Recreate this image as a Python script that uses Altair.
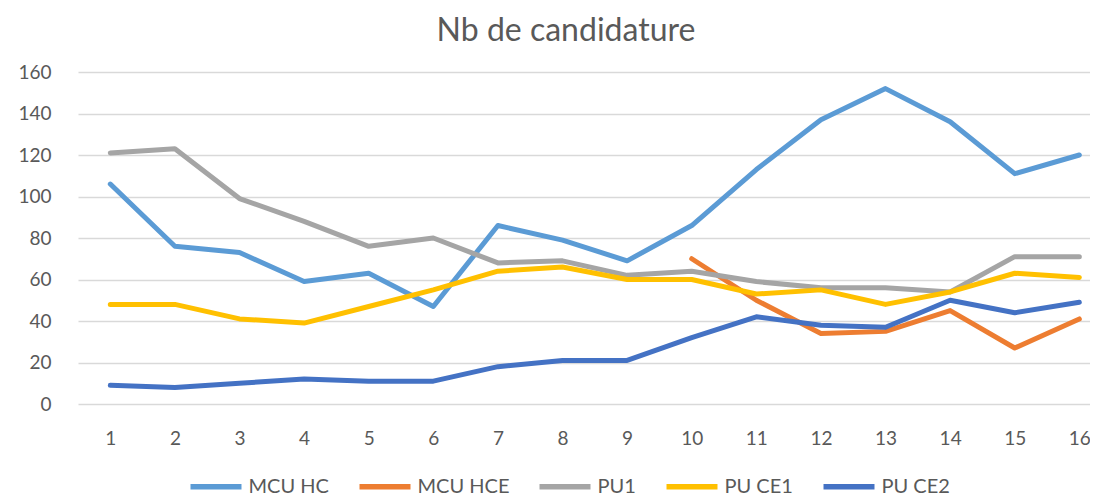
import altair as alt
import pandas as pd

categories = list(range(1, 17))
series_names = ["MCU HC", "MCU HCE", "PU1", "PU CE1", "PU CE2"]
mcu_hc = [106, 76, 73, 59, 63, 47, 86, 79, 69, 86, 113, 137, 152, 136, 111, 120]
mcu_hce = [None, None, None, None, None, None, None, None, None, 70, 50, 34, 35, 45, 27, 41]
pu1 = [121, 123, 99, 88, 76, 80, 68, 69, 62, 64, 59, 56, 56, 54, 71, 71]
pu_ce1 = [48, 48, 41, 39, 47, 55, 64, 66, 60, 60, 53, 55, 48, 54, 63, 61]
pu_ce2 = [9, 8, 10, 12, 11, 11, 18, 21, 21, 32, 42, 38, 37, 50, 44, 49]
colors = ["#5B9BD5", "#ED7D31", "#A5A5A5", "#FFC000", "#4472C4"]
y_ticks = [0, 20, 40, 60, 80, 100, 120, 140, 160]

rows = []
for order, (name, vals) in enumerate(zip(series_names, [mcu_hc, mcu_hce, pu1, pu_ce1, pu_ce2])):
    for c, v in zip(categories, vals):
        if v is not None:
            rows.append({"x": c, "y": v, "serie": name, "ord": order})
df = pd.DataFrame(rows)

FONT = "Lato"
TXT = "#595959"

chart = alt.Chart(df).mark_line(strokeWidth=5, strokeCap="round", strokeJoin="round").encode(
    x=alt.X("x:Q",
            scale=alt.Scale(domain=[0.5, 16.165], nice=False, zero=False),
            axis=alt.Axis(values=categories, format="d", grid=False, ticks=False, domain=False,
                          labelPadding=25, labelFontSize=19, labelColor=TXT, labelFont=FONT,
                          title=None, labelFlush=False)),
    y=alt.Y("y:Q",
            scale=alt.Scale(domain=[0, 160], nice=False),
            axis=alt.Axis(values=y_ticks, grid=True, gridColor="#D9D9D9", gridWidth=1.5,
                          ticks=False, domain=False, labelPadding=27, labelFontSize=19,
                          labelColor=TXT, labelFont=FONT, title=None)),
    color=alt.Color("serie:N",
                    scale=alt.Scale(domain=series_names, range=colors),
                    legend=alt.Legend(title=None, orient="none", direction="horizontal",
                                      legendX=109.5, legendY=386,
                                      symbolType="stroke", symbolSize=2600, symbolStrokeWidth=5.5,
                                      labelFontSize=20, labelFont=FONT, labelColor=TXT,
                                      labelOffset=4, columnPadding=19, padding=0)),
    order=alt.Order("ord:Q"),
).properties(
    width=1012,
    height=332,
    autosize=alt.AutoSizeParams(type="none"),
    padding={"left": 70, "top": 64, "right": 0, "bottom": 94},
    title=alt.TitleParams("Nb de candidature", font=FONT, fontSize=32, fontWeight="normal",
                          color=TXT, anchor="middle", dx=-18, offset=15),
).configure_view(stroke=None)

chart.save("out.html", embed_options={"renderer": "svg", "actions": False})
